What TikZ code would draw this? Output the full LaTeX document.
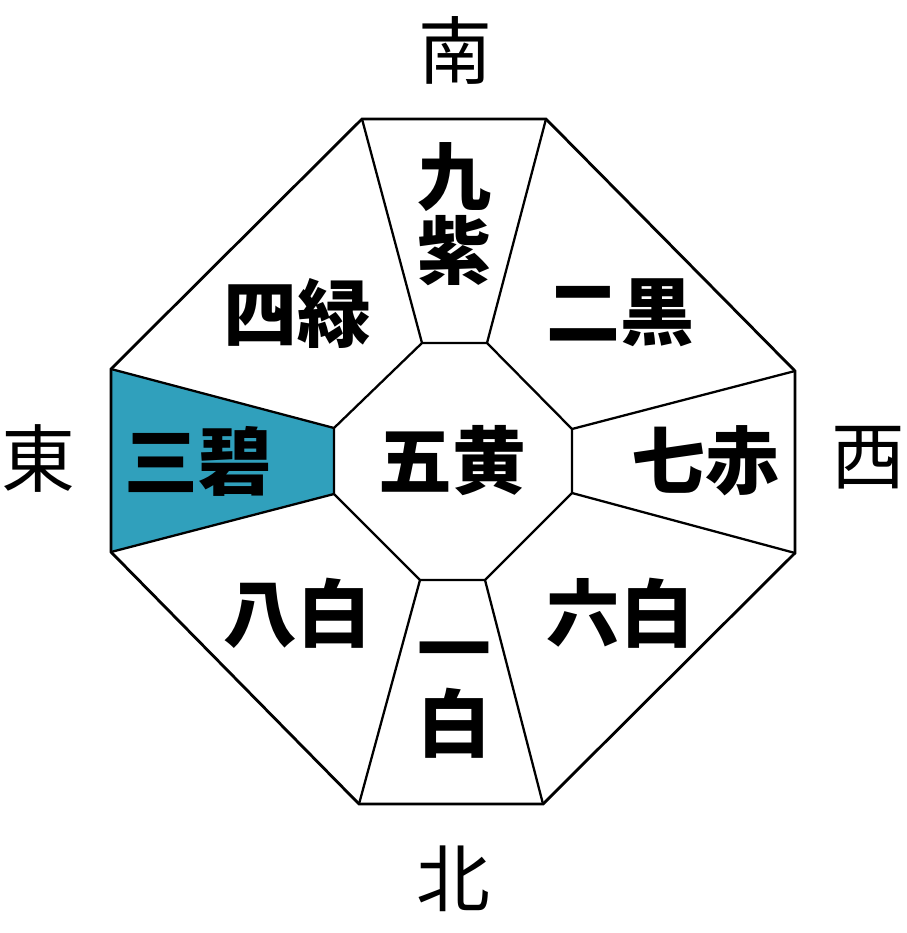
\documentclass[tikz,border=0pt]{standalone}
\usepackage{fontspec}
\usepackage{xcolor}
\usepackage{tikz}
\usetikzlibrary{calc,positioning}
\newfontfamily\jpfont{Noto Sans CJK JP}
\definecolor{hekiao}{RGB}{48,160,188}
\tikzset{
  borde/.style={draw=black,line width=1.6pt,line join=miter},
  hoshi/.style={font=\jpfont\bfseries\fontsize{42}{42.5}\selectfont,align=center,inner sep=0pt},
  hogaku/.style={font=\jpfont\fontsize{42}{50}\selectfont,inner sep=0pt}
}

\begin{document}
\begin{tikzpicture}[x=0.02cm,y=-0.02cm]
\useasboundingbox (0,0) rectangle (906,933);
% outer octagon
\coordinate (o1) at (362,119); \coordinate (o2) at (546,119);
\coordinate (o3) at (795,371); \coordinate (o4) at (795,553);
\coordinate (o5) at (543,804); \coordinate (o6) at (359,804);
\coordinate (o7) at (111,552); \coordinate (o8) at (111,369);
% inner octagon
\coordinate (i1) at (422,343); \coordinate (i2) at (487,343);
\coordinate (i3) at (572,429); \coordinate (i4) at (572,493);
\coordinate (i5) at (485,580); \coordinate (i6) at (420,580);
\coordinate (i7) at (334,494); \coordinate (i8) at (334,428);
\fill[hekiao] (o8)--(i8)--(i7)--(o7)--cycle;
\draw[borde] (o1)--(o2)--(o3)--(o4)--(o5)--(o6)--(o7)--(o8)--cycle;
\draw[borde,line width=1.3pt] (i1)--(i2)--(i3)--(i4)--(i5)--(i6)--(i7)--(i8)--cycle;
\foreach \k in {1,...,8}{\draw[borde,line width=1.3pt] (o\k)--(i\k);}
% stars
\node[hoshi] (kyushi) at (454,214) {九\\紫};
\node[hoshi] (shiroku) at (297,313) {四緑};
\node[hoshi] (jikoku) at (620,313) {二黒};
\node[hoshi] (sanpeki) at (198,461) {三碧};
\node[hoshi] (goo) at (452,461) {五黄};
\node[hoshi] (shichiseki) at (705,461) {七赤};
\node[hoshi] (happaku) at (297,613) {八白};
\node[hoshi] (roppaku) at (620,613) {六白};
\node[hoshi] (ippaku) at (454,700) {一\\白};
% directions
\node[hogaku] (minami) at (455,50) {南};
\node[hogaku] (higashi) at (38,458) {東};
\node[hogaku] (nishi) at (868,458) {西};
\node[hogaku] (kita) at (453,879) {北};
\end{tikzpicture}
\end{document}
